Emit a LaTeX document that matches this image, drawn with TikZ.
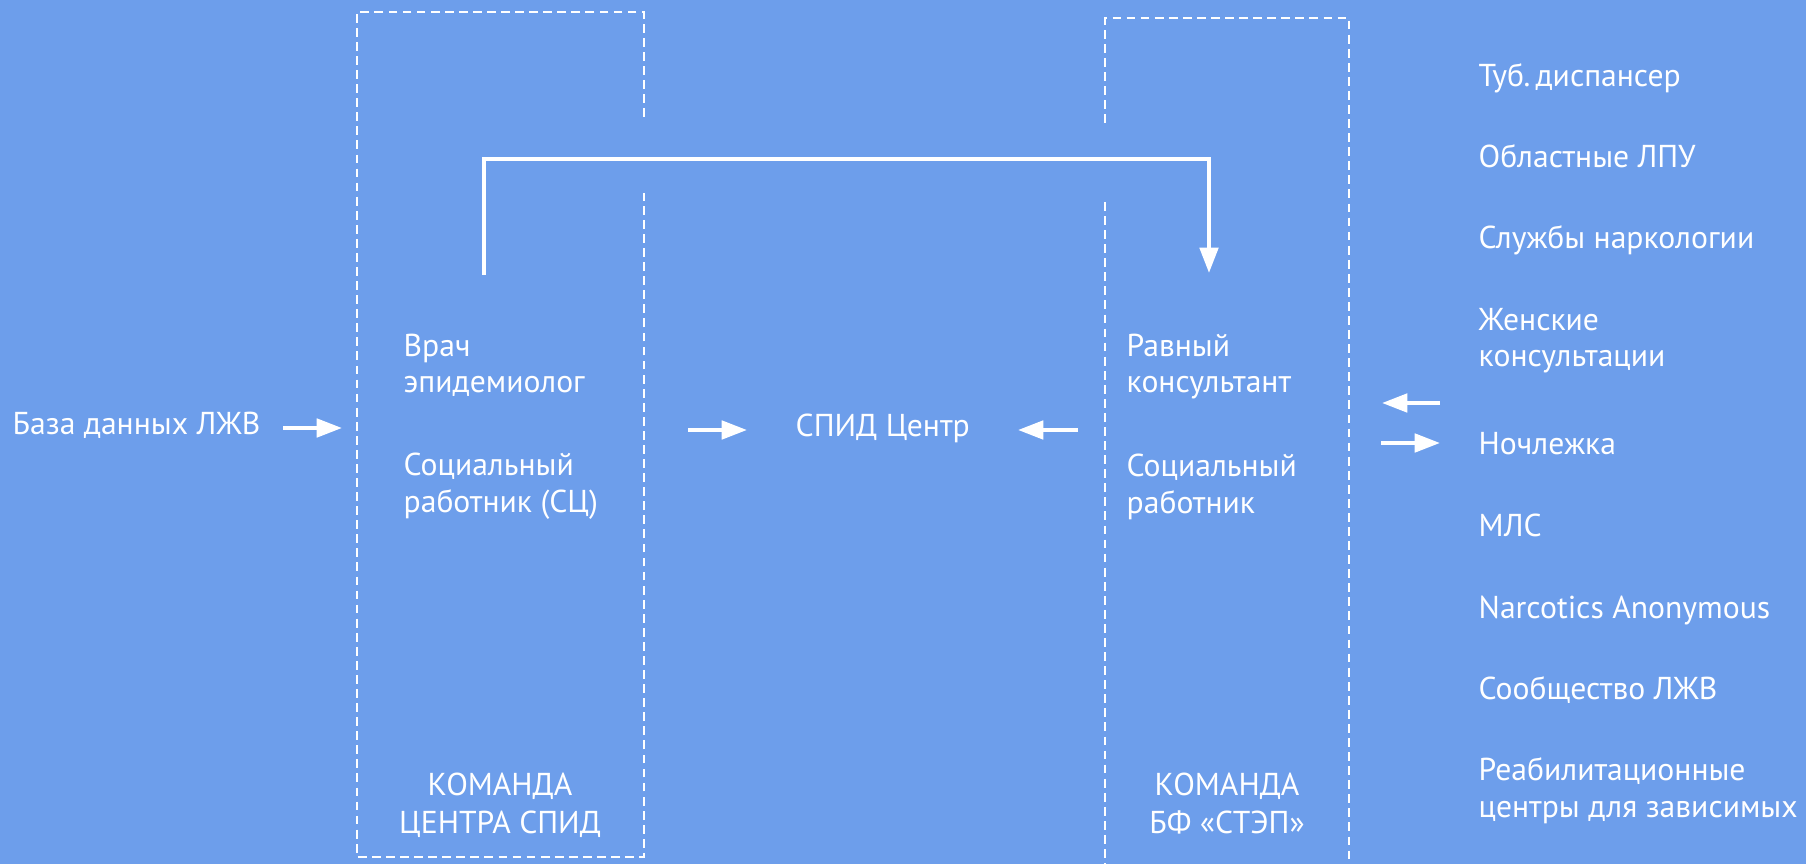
\documentclass[tikz,border=0pt]{standalone}
\usepackage{fontspec}
\setmainfont{PT Sans}
\usepackage{tikz}
\usetikzlibrary{arrows.meta}
\definecolor{bg}{HTML}{6D9EEB}
\tikzset{d/.style={line width=1.15pt}}

\begin{document}
\begin{tikzpicture}[x=0.01cm,y=-0.01cm,
txt/.style={text=white, inner sep=0pt, align=left, anchor=base west, font=\fontsize{9pt}{10.5pt}\selectfont},
team/.style={txt, align=center, anchor=base, font=\fontsize{9pt}{10.8pt}\selectfont},
arr/.style={d, white, -{Triangle[length=7.2pt,width=5.2pt]}},
box/.style={white, line width=0.6pt, dash pattern=on 2.5pt off 1.5pt},
]
\fill[bg] (0,0) rectangle (1806,864);
\useasboundingbox (0,0) rectangle (1806,864);
% team boxes
\draw[box] (644,117) -- (644,12) -- (357,12) -- (357,857) -- (644,857) -- (644,193);
\draw[box] (1105,123) -- (1105,18) -- (1349,18) -- (1349,864);
\draw[box] (1105,202) -- (1105,864);
% texts (base = last line)
\node[txt] (db) at (12,435) {База данных ЛЖВ};
\node[txt] (aids) at (795,437) {СПИД Центр};
\node[txt] (doc) at (403,393) {Врач\\эпидемиолог};
\node[txt] (soc1) at (403,512) {Социальный\\работник (СЦ)};
\node[txt] (peer) at (1126,393) {Равный\\консультант};
\node[txt] (soc2) at (1126,513) {Социальный\\работник};
\node[team] (team1) at (500,833) {КОМАНДА\\ЦЕНТРА СПИД};
\node[team] (team2) at (1227,833) {КОМАНДА\\БФ «СТЭП»};
% partners
\node[txt] (tub) at (1478,87) {Туб.\,диспансер};
\node[txt] (lpu) at (1478,168) {Областные ЛПУ};
\node[txt] (narc) at (1478,249) {Службы наркологии};
\node[txt] (wom) at (1478,367) {Женские\\консультации};
\node[txt] (shel) at (1478,455) {Ночлежка};
\node[txt] (mls) at (1478,537) {МЛС};
\node[txt] (na) at (1478,618) {Narcotics Anonymous};
\node[txt] (plhiv) at (1478,699) {Сообщество ЛЖВ};
\node[txt] (rehab) at (1478,817) {Реабилитационные\\центры для зависимых};
% arrow ends
\coordinate (a1) at (283,428); \coordinate (b1) at (342,428);
\coordinate (a2) at (688,430); \coordinate (b2) at (747,430);
\coordinate (a3) at (1078,430); \coordinate (b3) at (1018,430);
\coordinate (a4) at (1440,403); \coordinate (b4) at (1382,403);
\coordinate (a5) at (1381,443); \coordinate (b5) at (1440,443);
\coordinate (up) at (484,275); \coordinate (dn) at (1209,273);
\coordinate (top) at (0,159);
\draw[arr] (a1) -- (b1);
\draw[arr] (a2) -- (b2);
\draw[arr] (a3) -- (b3);
\draw[arr] (a4) -- (b4);
\draw[arr] (a5) -- (b5);
\draw[arr] (up) -- (up |- top) -- (dn |- top) -- (dn);
\end{tikzpicture}
\end{document}
